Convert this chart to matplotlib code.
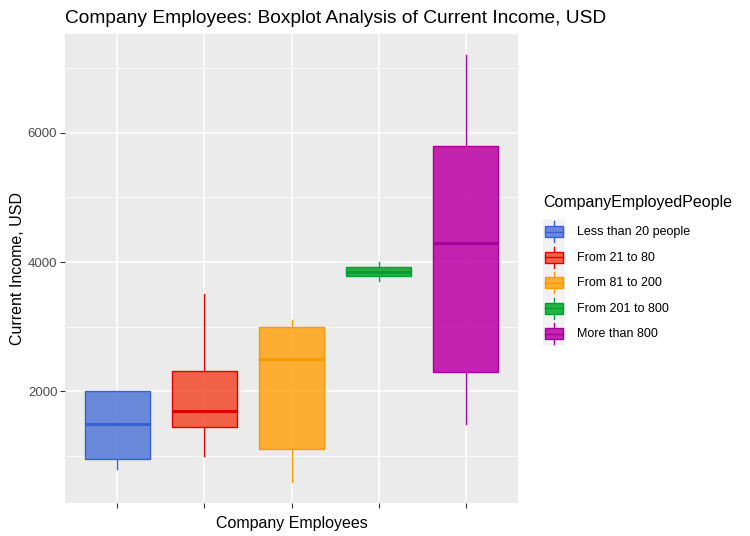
import matplotlib
matplotlib.use("Agg")
import matplotlib.pyplot as plt
import matplotlib.patches as mpatches
from matplotlib.lines import Line2D
from matplotlib.legend_handler import HandlerBase

plt.rcParams['font.family'] = ['Liberation Sans', 'DejaVu Sans']

# data (whisker low, Q1, median, Q3, whisker high)
groups = ["Less than 20 people", "From 21 to 80", "From 81 to 200",
          "From 201 to 800", "More than 800"]
whislo = [800, 1000, 600, 3700, 1500]
q1 = [950, 1440, 1100, 3780, 2300]
med = [1500, 1700, 2500, 3850, 4300]
q3 = [2000, 2320, 3000, 3930, 5800]
whishi = [2000, 3500, 3100, 4000, 7200]

fills = ["#5178D8", "#F3492B", "#FFA411", "#00A622", "#BD00A6"]
edges = ["#3A60D0", "#E00000", "#F59B00", "#00A035", "#A6009A"]
fill_alpha = 0.85

fig = plt.figure(figsize=(7.5, 5.36), dpi=100)
ax = fig.add_axes([65 / 750, 1 - 503 / 536, 453 / 750, 469 / 536])
ax.set_facecolor("#EBEBEB")
for s in ax.spines.values():
    s.set_visible(False)

stats = []
for i in range(len(groups)):
    stats.append(dict(whislo=whislo[i], q1=q1[i], med=med[i], q3=q3[i],
                      whishi=whishi[i], fliers=[], label=groups[i]))

pos = list(range(1, len(groups) + 1))
bp = ax.bxp(stats, positions=pos, widths=0.75, showcaps=False,
            patch_artist=True, zorder=3)
for i in range(len(groups)):
    b = bp['boxes'][i]
    b.set_facecolor(matplotlib.colors.to_rgba(fills[i], fill_alpha))
    b.set_edgecolor(edges[i])
    b.set_linewidth(1.0)
    bp['medians'][i].set_color(edges[i])
    bp['medians'][i].set_linewidth(2.2)
    for w in bp['whiskers'][2 * i:2 * i + 2]:
        w.set_color(edges[i])
        w.set_linewidth(1.0)

lo = min(whislo)
hi = max(whishi)
pad = 0.05 * (hi - lo)
ax.set_ylim(lo - pad, hi + pad)
ax.set_xlim(0.4, len(groups) + 0.6)

ax.set_yticks([2000, 4000, 6000])
ax.set_yticks([1000, 3000, 5000, 7000], minor=True)
ax.set_xticks(pos)
ax.set_xticklabels([""] * len(pos))
ax.grid(True, which='major', color='white', linewidth=1.1, zorder=0)
ax.grid(True, which='minor', axis='y', color='white', linewidth=0.55, zorder=0)
ax.set_axisbelow(True)
ax.tick_params(axis='both', which='major', length=3.5, width=0.8,
               color='#333333', labelcolor='#4D4D4D', labelsize=9.5, pad=2)
ax.tick_params(axis='y', which='minor', length=0)

ax.set_ylabel("Current Income, USD", fontsize=11.5, color='black', labelpad=2)
ax.set_xlabel("Company Employees", fontsize=11.5, color='black', labelpad=4)
ax.set_title("Company Employees: Boxplot Analysis of Current Income, USD",
             fontsize=13.8, loc='left', pad=8)


class BoxKey(HandlerBase):
    def create_artists(self, legend, orig, xd, yd, w, h, fontsize, trans):
        fc = orig.get_facecolor()
        ec = orig.get_edgecolor()
        x0, y0 = -xd, -yd
        bg = mpatches.Rectangle((x0, y0), w, h, facecolor="#F2F2F2",
                                edgecolor='none', transform=trans)
        bw = 0.82 * w
        bx = x0 + 0.09 * w
        box = mpatches.Rectangle((bx, y0 + 0.28 * h), bw, 0.44 * h,
                                 facecolor=fc, edgecolor=ec, linewidth=1.0,
                                 transform=trans)
        cx = x0 + w / 2
        w1 = Line2D([cx, cx], [y0 + 0.08 * h, y0 + 0.28 * h], color=ec,
                    linewidth=1.0, transform=trans)
        w2 = Line2D([cx, cx], [y0 + 0.72 * h, y0 + 0.92 * h], color=ec,
                    linewidth=1.0, transform=trans)
        m = Line2D([bx, bx + bw], [y0 + 0.5 * h, y0 + 0.5 * h], color=ec,
                   linewidth=1.0, transform=trans)
        return [bg, box, w1, w2, m]


handles = [mpatches.Patch(facecolor=matplotlib.colors.to_rgba(fills[i], fill_alpha),
                          edgecolor=edges[i]) for i in range(len(groups))]
leg = fig.legend(handles, groups, loc='upper left',
                 bbox_to_anchor=(543 / 750, 1 - 219 / 536),
                 frameon=False, fontsize=9,
                 handler_map={mpatches.Patch: BoxKey()},
                 handlelength=1.75, handleheight=2.76, labelspacing=0,
                 handletextpad=1.0, borderpad=0, borderaxespad=0)
fig.text(543 / 750, 1 - 202 / 536, "CompanyEmployedPeople", fontsize=11.5,
         ha='left', va='center')

fig.savefig("out.png", dpi=100)
